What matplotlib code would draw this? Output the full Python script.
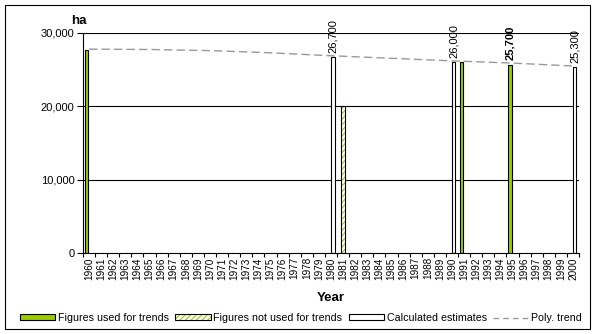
import numpy as np
import matplotlib.pyplot as plt
from matplotlib.patches import Patch, Rectangle
from matplotlib.lines import Line2D
from matplotlib.ticker import FuncFormatter

plt.rcParams['font.family'] = ['Liberation Sans', 'DejaVu Sans']
plt.rcParams['hatch.linewidth'] = 0.8

# Areas in ha, by year
years = list(range(1960, 2001))

used_years = [1960, 1991, 1995]
used_values = [27700, 26000, 25700]

notused_years = [1981]
notused_values = [20000]

calc_years = [1980, 1990, 2000]
calc_values = [26700, 26000, 25300]

# polynomial trend line, read every 5 years
trend_years = [1960, 1965, 1970, 1975, 1980, 1985, 1990, 1995, 2000]
trend_values = [27800, 27750, 27600, 27300, 26900, 26550, 26200, 25900, 25500]

# which bars carry a value label
label_calc = [1980, 1990, 2000]
label_used = [1995]

GREEN = '#99cc00'
BAR_W = 0.28

fig = plt.figure(figsize=(5.96, 3.34), dpi=100)
ax = fig.add_axes([83 / 596, 1 - 253 / 334, 496 / 596, 220 / 334])

# gridlines behind everything
for v in (10000, 20000, 30000):
    ax.axhline(v, color='black', lw=0.8, zorder=1)

ux = np.array(used_years) - 0.2
ax.bar(ux, used_values, width=BAR_W, color=GREEN, edgecolor='black', lw=0.8, zorder=3)

nx = np.array(notused_years, dtype=float)
ax.bar(nx, notused_values, width=BAR_W, color='white', edgecolor=GREEN,
       hatch='//////', lw=0, zorder=3)
ax.bar(nx, notused_values, width=BAR_W, fill=False, edgecolor='black', lw=0.8, zorder=3)

cx = np.array(calc_years) + 0.15
ax.bar(cx, calc_values, width=BAR_W, color='white', edgecolor='black', lw=0.8, zorder=3)

ax.plot(trend_years, trend_values, color='#999999', lw=1.0, dashes=(6, 3), zorder=4)

# value labels
for x, yr, v in zip(cx, calc_years, calc_values):
    if yr in label_calc:
        ax.annotate(f'{v:,}', (x, v), xytext=(0, 3), textcoords='offset points',
                    rotation=90, ha='center', va='bottom', fontsize=8, zorder=5)
for x, yr, v in zip(ux, used_years, used_values):
    if yr in label_used:
        ax.annotate(f'{v:,}', (x, v), xytext=(0, 3), textcoords='offset points',
                    rotation=90, ha='center', va='bottom', fontsize=8,
                    fontweight='bold', zorder=5)

ax.set_xlim(1959.5, 2000.5)
ax.set_ylim(0, 30000)
ax.set_yticks([0, 10000, 20000, 30000])
ax.yaxis.set_major_formatter(FuncFormatter(lambda v, p: f'{int(v):,}'))
ax.tick_params(axis='y', length=4, width=0.8, labelsize=8, pad=2)

# category ticks sit between years, labels at the year centres
ax.set_xticks(np.arange(1959.5, 2001, 1.0))
ax.set_xticklabels([])
ax.tick_params(axis='x', which='major', length=3, width=0.8)
ax.set_xticks(years, minor=True)
ax.set_xticklabels([str(y) for y in years], minor=True, rotation=90, fontsize=7.2)
ax.tick_params(axis='x', which='minor', length=0, pad=3)

for s in ('top', 'right'):
    ax.spines[s].set_visible(False)
for s in ('left', 'bottom'):
    ax.spines[s].set_linewidth(0.8)
    ax.spines[s].set_zorder(6)

fig.text(79 / 596, 1 - 21 / 334, 'ha', fontsize=9.5, fontweight='bold', ha='center', va='center')
fig.text(331 / 596, 1 - 298 / 334, 'Year', fontsize=9.5, fontweight='bold', ha='center', va='center')

# outer frame
fig.patches.append(Rectangle((5 / 596, 1 - 329 / 334), 585 / 596, 324 / 334,
                             transform=fig.transFigure, fill=False, edgecolor='black', lw=0.8))

h_used = Patch(facecolor=GREEN, edgecolor='black', lw=0.8)
h_not = (Patch(facecolor='white', edgecolor=GREEN, hatch='//////', lw=0),
         Patch(fill=False, edgecolor='black', lw=0.8))
h_calc = Patch(facecolor='white', edgecolor='black', lw=0.8)
h_trend = Line2D([], [], color='#999999', lw=1.0, dashes=(4, 3))
fig.legend([h_used, h_not, h_calc, h_trend],
           ['Figures used for trends', 'Figures not used for trends',
            'Calculated estimates', 'Poly. trend'],
           loc='center', bbox_to_anchor=(301 / 596, 1 - 318 / 334), ncol=4,
           frameon=False, fontsize=7.7, handlelength=3.3, handleheight=0.5,
           handletextpad=0.25, columnspacing=0.6, borderpad=0)

fig.savefig('out.png', dpi=100)
